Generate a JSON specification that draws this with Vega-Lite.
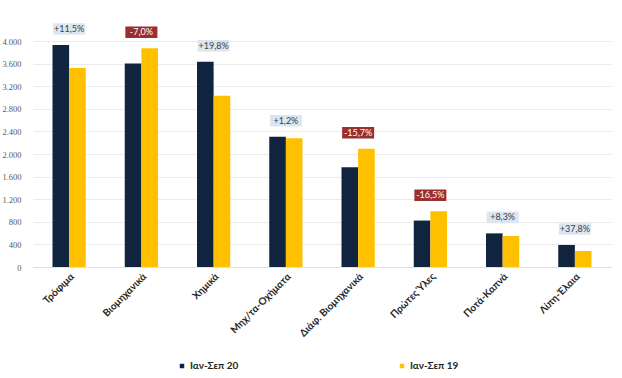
{
  "$schema": "https://vega.github.io/schema/vega-lite/v6.json",
  "width": 578,
  "height": 226,
  "autosize": {"type": "none"},
  "padding": {"left": 33, "top": 41, "right": 11, "bottom": 111},
  "background": "white",
  "config": {"font": "Lato", "view": {"stroke": null}},
  "data": {
    "values": [
      {"cat": "Τρόφιμα", "series": "Ιαν-Σεπ 20", "value": 3929, "chg": "+11,5%", "neg": false},
      {"cat": "Τρόφιμα", "series": "Ιαν-Σεπ 19", "value": 3522, "chg": "+11,5%", "neg": false},
      {"cat": "Βιομηχανικά", "series": "Ιαν-Σεπ 20", "value": 3600, "chg": "-7,0%", "neg": true},
      {"cat": "Βιομηχανικά", "series": "Ιαν-Σεπ 19", "value": 3871, "chg": "-7,0%", "neg": true},
      {"cat": "Χημικά", "series": "Ιαν-Σεπ 20", "value": 3634, "chg": "+19,8%", "neg": false},
      {"cat": "Χημικά", "series": "Ιαν-Σεπ 19", "value": 3033, "chg": "+19,8%", "neg": false},
      {"cat": "Μηχ/τα-Οχήματα", "series": "Ιαν-Σεπ 20", "value": 2305, "chg": "+1,2%", "neg": false},
      {"cat": "Μηχ/τα-Οχήματα", "series": "Ιαν-Σεπ 19", "value": 2278, "chg": "+1,2%", "neg": false},
      {"cat": "Διάφ. Βιομηχανικά", "series": "Ιαν-Σεπ 20", "value": 1765, "chg": "-15,7%", "neg": true},
      {"cat": "Διάφ. Βιομηχανικά", "series": "Ιαν-Σεπ 19", "value": 2094, "chg": "-15,7%", "neg": true},
      {"cat": "Πρώτες Ύλες", "series": "Ιαν-Σεπ 20", "value": 822, "chg": "-16,5%", "neg": true},
      {"cat": "Πρώτες Ύλες", "series": "Ιαν-Σεπ 19", "value": 985, "chg": "-16,5%", "neg": true},
      {"cat": "Ποτά-Καπνά", "series": "Ιαν-Σεπ 20", "value": 595, "chg": "+8,3%", "neg": false},
      {"cat": "Ποτά-Καπνά", "series": "Ιαν-Σεπ 19", "value": 549, "chg": "+8,3%", "neg": false},
      {"cat": "Λίπη-Έλαια", "series": "Ιαν-Σεπ 20", "value": 390, "chg": "+37,8%", "neg": false},
      {"cat": "Λίπη-Έλαια", "series": "Ιαν-Σεπ 19", "value": 283, "chg": "+37,8%", "neg": false}
    ]
  },
  "layer": [
    {
      "mark": {"type": "bar"},
      "encoding": {
        "x": {
          "field": "cat", "type": "nominal", "sort": null, "title": null,
          "scale": {"paddingInner": 0.54, "paddingOuter": 0.27},
          "axis": {"labelAngle": -45, "labelFontSize": 10, "labelFontWeight": "bold", "labelColor": "#262626", "ticks": false, "domainColor": "#e0e0e0", "labelPadding": 4}
        },
        "xOffset": {"field": "series", "type": "nominal", "sort": ["Ιαν-Σεπ 20", "Ιαν-Σεπ 19"]},
        "y": {
          "field": "value", "type": "quantitative", "title": null,
          "scale": {"domain": [0, 4000]},
          "axis": {"values": [0, 400, 800, 1200, 1600, 2000, 2400, 2800, 3200, 3600, 4000], "tickCount": 11, "labelExpr": "replace(format(datum.value, ','), ',', '.')", "labelFont": "Liberation Sans Narrow", "labelFontSize": 8.5, "labelColor": "#595959", "labelOverlap": false, "ticks": false, "domain": false, "gridColor": "#ebebeb", "labelPadding": 12}
        },
        "color": {
          "field": "series", "type": "nominal",
          "scale": {"domain": ["Ιαν-Σεπ 20", "Ιαν-Σεπ 19"], "range": ["#10233f", "#ffc000"]},
          "legend": {"title": null, "orient": "none", "legendX": 144, "legendY": 320, "direction": "horizontal", "symbolType": "square", "symbolSize": 20, "labelFontSize": 10, "labelFontWeight": "bold", "labelColor": "#262626", "columnPadding": 158, "labelOffset": 3}
        }
      }
    },
    {
      "transform": [{"aggregate": [{"op": "max", "field": "value", "as": "top"}], "groupby": ["cat", "chg", "neg"]}],
      "mark": {"type": "point", "shape": "M-1,-0.36H1V0.36H-1Z", "filled": true, "opacity": 1, "size": 1024, "yOffset": -16},
      "encoding": {
        "x": {"field": "cat", "type": "nominal", "sort": null},
        "y": {"field": "top", "type": "quantitative"},
        "fill": {"condition": {"test": "datum.neg", "value": "#9b2f2e"}, "value": "#dce6f1"}
      }
    },
    {
      "transform": [{"aggregate": [{"op": "max", "field": "value", "as": "top"}], "groupby": ["cat", "chg", "neg"]}],
      "mark": {"type": "text", "fontSize": 9, "baseline": "middle", "align": "center", "yOffset": -16},
      "encoding": {
        "x": {"field": "cat", "type": "nominal", "sort": null},
        "y": {"field": "top", "type": "quantitative"},
        "text": {"field": "chg"},
        "color": {"condition": {"test": "datum.neg", "value": "#ffffff"}, "value": "#404040"}
      }
    }
  ]
}
